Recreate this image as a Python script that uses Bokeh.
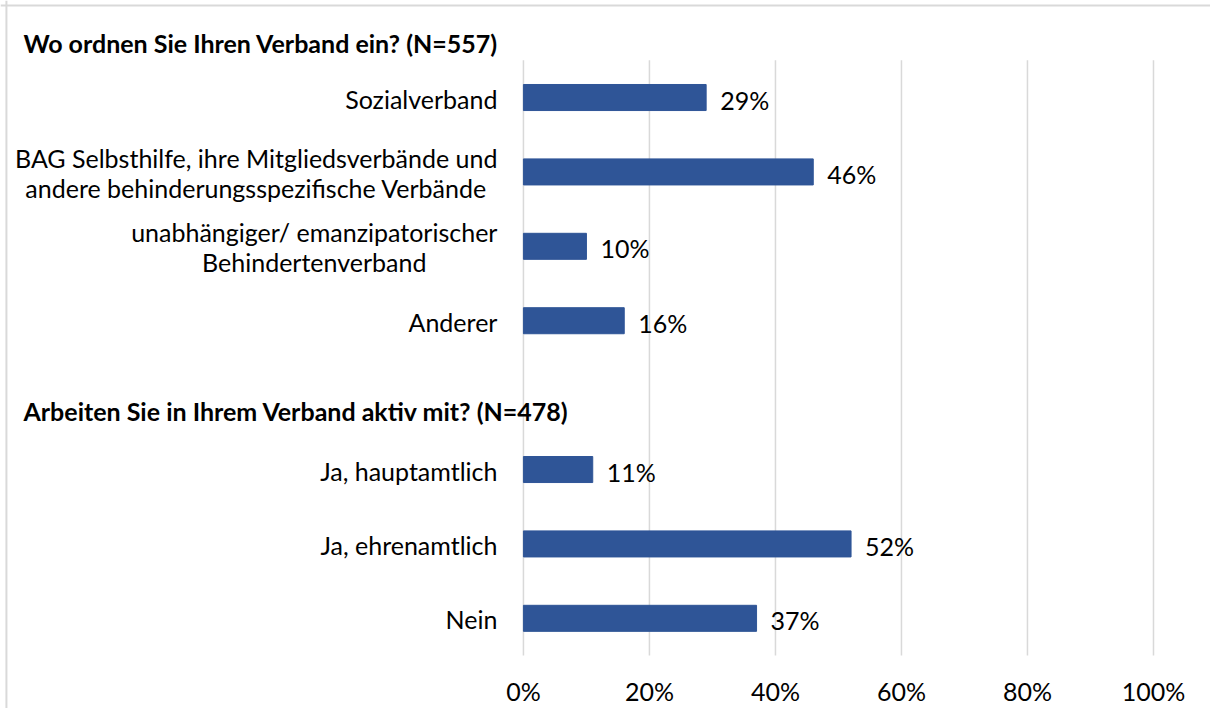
from bokeh.plotting import figure
from bokeh.models import Range1d, ColumnDataSource, Span
from bokeh.embed import file_html
from bokeh.resources import INLINE
from bokeh.core.properties import value

# ---- data ----
header1 = "Wo ordnen Sie Ihren Verband ein? (N=557)"
header2 = "Arbeiten Sie in Ihrem Verband aktiv mit? (N=478)"
categories = [
    "Sozialverband",
    "BAG Selbsthilfe, ihre Mitgliedsverbände und\nandere behinderungsspezifische Verbände",
    "unabhängiger/ emanzipatorischer\nBehindertenverband",
    "Anderer",
    "",
    "Ja, hauptamtlich",
    "Ja, ehrenamtlich",
    "Nein",
]
values = [29, 46, 10, 16, None, 11, 52, 37]
x_ticks = [0, 20, 40, 60, 80, 100]
x_tick_labels = ["0%", "20%", "40%", "60%", "80%", "100%"]

# ---- style / layout ----
FONT = value("Lato")
FS = value("25px")
BAR = "#2F5597"
GRID = "#d9d9d9"
TXT = "#000000"

X0, X1 = -83.0, 109.05     # visible x extent (percent units)
Y0, Y1 = -0.712, 8.804     # visible y extent (row units)

n = len(categories)
row_y = [n - i - 0.5 for i in range(n)]          # row centres, top to bottom
gap_y = row_y[categories.index("")]

bars = ColumnDataSource(dict(
    y=[y for y, v in zip(row_y, values) if v is not None],
    val=[v for v in values if v is not None],
    lbl=[f"{v}%" for v in values if v is not None],
))
cats = ColumnDataSource(dict(
    y=[y for y, c in zip(row_y, categories) if c],
    txt=[c for c in categories if c],
))

p = figure(
    width=1210, height=708,
    x_range=Range1d(X0, X1), y_range=Range1d(Y0, Y1),
    output_backend="svg", toolbar_location=None,
    min_border=0, min_border_left=0, min_border_right=0,
    min_border_top=0, min_border_bottom=0,
)
p.axis.visible = False
p.grid.visible = False
p.outline_line_color = None

# vertical grid lines over the row area
p.segment(x0=x_ticks, y0=[0] * len(x_ticks), x1=x_ticks, y1=[n] * len(x_ticks),
          line_color=GRID, line_width=1.5)

# bars + value labels
p.hbar(y="y", right="val", left=0, height=0.35, source=bars,
       fill_color=BAR, line_color=BAR)
p.text(x="val", y="y", text="lbl", source=bars, x_offset=14, y_offset=2,
       text_font=FONT, text_font_size=FS, text_color=TXT,
       text_baseline="middle", text_align="left")

# category labels (block right-anchored, lines centred)
p.text(x=0, y="y", text="txt", source=cats, x_offset=-26, y_offset=1,
       anchor=value("center_right"),
       text_font=FONT, text_font_size=FS, text_color=TXT,
       text_baseline="middle", text_align="center", text_line_height=1.0)

# tick labels (x axis)
p.text(x=x_ticks, y=[0] * len(x_ticks), text=x_tick_labels, y_offset=35,
       text_font=FONT, text_font_size=FS, text_color=TXT,
       text_baseline="middle", text_align="center")

# section headers
p.text(x=[0, 0], y=[n, gap_y], text=[header1, header2],
       x_offset=-500, y_offset=[-17, 16],
       text_font=FONT, text_font_size=FS, text_font_style="bold", text_color=TXT,
       text_baseline="middle", text_align="left")

# chart border (top / left)
p.add_layout(Span(location=8.737, dimension="width", line_color=GRID, line_width=2))
p.add_layout(Span(location=-82.06, dimension="height", line_color=GRID, line_width=2))

open("out.html", "w").write(file_html(p, INLINE))
